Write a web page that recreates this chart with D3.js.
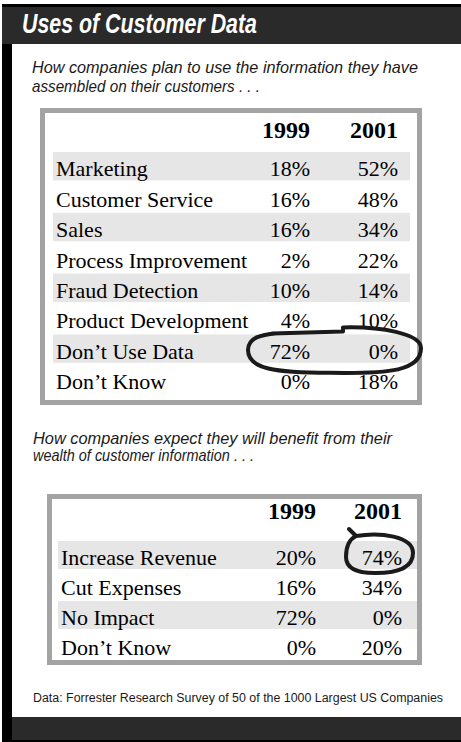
<!DOCTYPE html>
<html><head><meta charset="utf-8">
<script src="https://cdn.jsdelivr.net/npm/d3@7"></script>
<style>html,body{margin:0;padding:0;background:#fff;}</style>
</head><body>
<script>
// ---- data ----
const title = "Uses of Customer Data";
const subtitle1 = ["How companies plan to use the information they have", "assembled on their customers . . ."];
const subtitle2 = ["How companies expect they will benefit from their", "wealth of customer information . . ."];
const years = ["1999", "2001"];
const useCategories = ["Marketing", "Customer Service", "Sales", "Process Improvement", "Fraud Detection", "Product Development", "Don\u2019t Use Data", "Don\u2019t Know"];
const use1999 = [18, 16, 16, 2, 10, 4, 72, 0];
const use2001 = [52, 48, 34, 22, 14, 10, 0, 18];
const benefitCategories = ["Increase Revenue", "Cut Expenses", "No Impact", "Don\u2019t Know"];
const benefit1999 = [20, 16, 72, 0];
const benefit2001 = [74, 34, 0, 20];
const source = "Data: Forrester Research Survey of 50 of the 1000 Largest US Companies";

const W = 461, H = 742;
const svg = d3.select("body").append("svg").attr("width", W).attr("height", H);
svg.append("rect").attr("width", W).attr("height", H).attr("fill", "#fff");

// frame
svg.append("rect").attr("x", 2).attr("y", 5).attr("width", W - 2).attr("height", 39).attr("fill", "#2a2a2a");
svg.append("rect").attr("x", 2).attr("y", 4).attr("width", W - 2).attr("height", 3).attr("fill", "#000");
svg.append("rect").attr("x", 2).attr("y", 44).attr("width", 10).attr("height", H - 44).attr("fill", "#000");
svg.append("rect").attr("x", 12).attr("y", 717).attr("width", W - 12).attr("height", 23).attr("fill", "#2a2a2a");
svg.append("rect").attr("x", 2).attr("y", 740).attr("width", W - 2).attr("height", 2).attr("fill", "#000");

const sans = "'Liberation Sans Narrow','Arial Narrow','Liberation Sans',Arial,sans-serif";
svg.append("text").attr("x", 22).attr("y", 33).text(title)
  .attr("font-family", sans).attr("font-weight", "bold").attr("font-style", "italic")
  .attr("font-size", 27).attr("fill", "#fff")
  .attr("textLength", 235).attr("lengthAdjust", "spacingAndGlyphs");

function subtitle(lines, x, y0, lh, widths) {
  lines.forEach((t, i) => {
    svg.append("text").attr("x", x).attr("y", y0 + i * lh).text(t)
      .attr("font-family", sans).attr("font-style", "italic").attr("font-size", 16.5).attr("fill", "#1a1a1a")
      .attr("textLength", widths[i]).attr("lengthAdjust", "spacingAndGlyphs");
  });
}
subtitle(subtitle1, 32, 73, 19, [386, 228]);
subtitle(subtitle2, 33, 444, 17, [359, 221]);

const serif = "'Liberation Serif','Times New Roman',serif";

function table(cfg) {
  const {cats, v1, v2, box, headerY, rowTop, rowH, labelX, col1, col2, bandX0, bandX1, fs} = cfg;
  const g = svg.append("g");
  g.append("rect").attr("x", box[0] + 2.5).attr("y", box[1] + 2.5)
    .attr("width", box[2] - box[0] - 5).attr("height", box[3] - box[1] - 5)
    .attr("fill", "#fff").attr("stroke", "#a3a3a3").attr("stroke-width", 5);
  const y = d3.scaleBand().domain(cats).range([rowTop, rowTop + rowH * cats.length]).padding(0);
  g.selectAll("rect.band").data(cats.filter((d, i) => i % 2 === 0)).join("rect")
    .attr("class", "band").attr("x", bandX0).attr("width", bandX1 - bandX0)
    .attr("y", d => y(d)).attr("height", y.bandwidth() - 2).attr("fill", "#e6e6e6");
  [col1, col2].forEach((cx, i) => {
    g.append("text").attr("x", cx).attr("y", headerY).attr("text-anchor", "end").text(years[i])
      .attr("font-family", serif).attr("font-weight", "bold").attr("font-size", fs + 2).attr("fill", "#000");
  });
  const base = y.bandwidth() * 0.8;
  g.selectAll("text.lab").data(cats).join("text").attr("class", "lab")
    .attr("x", labelX).attr("y", d => y(d) + base).text(d => d)
    .attr("font-family", serif).attr("font-size", fs).attr("fill", "#000");
  [v1, v2].forEach((vals, k) => {
    g.selectAll("text.v" + k).data(cats).join("text").attr("class", "v" + k)
      .attr("x", k ? col2 : col1).attr("y", d => y(d) + base).attr("text-anchor", "end")
      .text((d, i) => vals[i] + "%")
      .attr("font-family", serif).attr("font-size", fs).attr("fill", "#000");
  });
  return y;
}

const y1 = table({cats: useCategories, v1: use1999, v2: use2001, box: [40, 108, 422, 405],
  headerY: 138, rowTop: 152, rowH: 30.4, labelX: 56, col1: 310, col2: 398, bandX0: 53, bandX1: 410, fs: 22});
const y2 = table({cats: benefitCategories, v1: benefit1999, v2: benefit2001, box: [47, 494, 422, 665],
  headerY: 519, rowTop: 541, rowH: 30, labelX: 61, col1: 316, col2: 402, bandX0: 58, bandX1: 417, fs: 22});

// hand-drawn annotation loops, positioned from the table scales
const ink = svg.append("g").attr("fill", "none").attr("stroke", "#1a1a1a").attr("stroke-width", 4)
  .attr("stroke-linecap", "round").attr("stroke-linejoin", "round");
(function () {
  const r = "Don\u2019t Use Data";
  const top = y1(r) - 7, bot = y1(r) + y1.bandwidth() + 8;
  const L = 248, R = 421, cy = (top + bot) / 2;
  const p = d3.path();
  p.moveTo(272, top + 6);
  p.lineTo(343, top + 4);
  p.lineTo(343, top);
  p.bezierCurveTo(380, top - 1, R, top + 6, R, cy - 2);
  p.bezierCurveTo(R, bot - 2, 390, bot + 1, 330, bot);
  p.bezierCurveTo(275, bot, L, bot - 4, L, cy);
  p.bezierCurveTo(L, top + 10, 262, top + 7, 276, top + 6);
  ink.append("path").attr("d", p.toString());
})();
(function () {
  const r = "Increase Revenue";
  const top = y2(r) - 8, bot = y2(r) + y2.bandwidth() + 2;
  const L = 346, R = 413, cy = (top + bot) / 2;
  const p = d3.path();
  p.moveTo(349, top - 4);
  p.lineTo(356, top + 3);
  p.bezierCurveTo(380, top - 1, R, top + 3, R, cy);
  p.bezierCurveTo(R, bot - 4, 395, bot, 375, bot);
  p.bezierCurveTo(355, bot, L, bot - 6, L, cy + 4);
  p.bezierCurveTo(L, cy - 8, 350, top + 6, 356, top + 3);
  ink.append("path").attr("d", p.toString());
})();

svg.append("text").attr("x", 33).attr("y", 702).text(source)
  .attr("font-family", sans).attr("font-size", 12.5).attr("fill", "#1a1a1a")
  .attr("textLength", 410).attr("lengthAdjust", "spacingAndGlyphs");
</script>
</body></html>
